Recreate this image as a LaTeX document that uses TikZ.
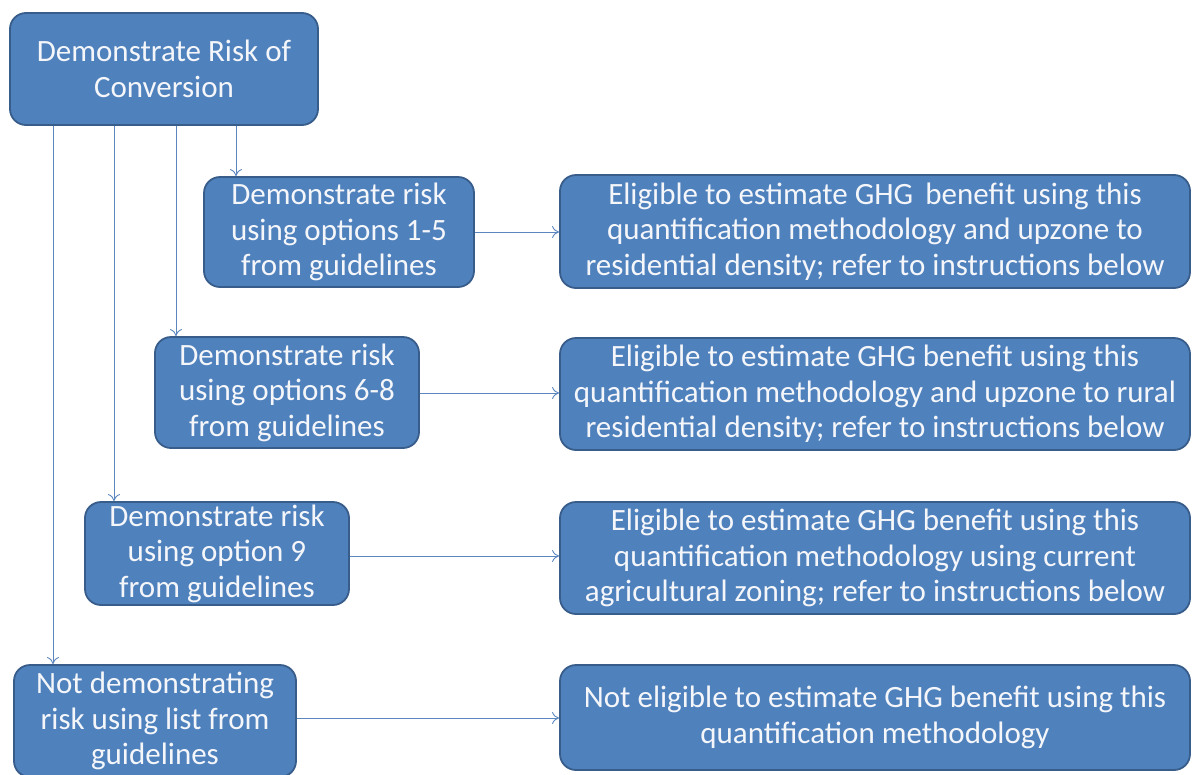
\documentclass[tikz,border=0pt]{standalone}
\usepackage{fontspec}
\setmainfont{Carlito}
\usetikzlibrary{arrows.meta}
\definecolor{boxfill}{HTML}{4F81BD}
\definecolor{boxedge}{HTML}{385D8A}
\definecolor{linec}{HTML}{5B86BE}
\definecolor{txt}{HTML}{F4F6FA}
\begin{document}
\begin{tikzpicture}[x=1pt,y=-1pt,
  box/.style={draw=boxedge, line width=1.8pt, fill=boxfill, rounded corners=16pt,
    text=txt, align=center, inner sep=0pt,
    font=\fontsize{31}{35.5}\selectfont},
  conn/.style={draw=linec, line width=0.9pt, -{To[length=7pt,width=12pt]}}]
\useasboundingbox (0,0) rectangle (1196,774);
\node[box, minimum width=308pt, minimum height=112pt] (A) at (164,69) {Demonstrate Risk of\\Conversion};
\node[box, minimum width=270pt, minimum height=110pt] (B1) at (339,232) {Demonstrate risk\\using options 1-5\\from guidelines};
\node[box, minimum width=264pt, minimum height=111pt] (B2) at (287,392.5) {Demonstrate risk\\using options 6-8\\from guidelines};
\node[box, minimum width=264pt, minimum height=103pt] (B3) at (217,553.5) {Demonstrate risk\\using option 9\\from guidelines};
\node[box, minimum width=282pt, minimum height=112pt] (B4) at (155,721) {Not demonstrating\\risk using list from\\guidelines};
\node[box, minimum width=630pt, minimum height=113pt] (R1) at (875,231.5) {Eligible to estimate GHG\, benefit using this\\quantification methodology and upzone to\\residential density; refer to instructions below};
\node[box, minimum width=630pt, minimum height=112pt] (R2) at (875,394) {Eligible to estimate GHG benefit using this\\quantification methodology and upzone to rural\\residential density; refer to instructions below};
\node[box, minimum width=630pt, minimum height=112pt] (R3) at (875,558) {Eligible to estimate GHG benefit using this\\quantification methodology using current\\agricultural zoning; refer to instructions below};
\node[box, minimum width=630pt, minimum height=105pt] (R4) at (875,717.5) {Not eligible to estimate GHG benefit using this\\quantification methodology};
\draw[conn] (A.south -| 236,0) -- (B1.north -| 236,0);
\draw[conn] (A.south -| 176,0) -- (B2.north -| 176,0);
\draw[conn] (A.south -| 114,0) -- (B3.north -| 114,0);
\draw[conn] (A.south -| 53,0) -- (B4.north -| 53,0);
\draw[conn] (B1.east |- 0,232) -- (R1.west |- 0,232);
\draw[conn] (B2.east |- 0,393) -- (R2.west |- 0,393);
\draw[conn] (B3.east |- 0,556) -- (R3.west |- 0,556);
\draw[conn] (B4.east |- 0,718) -- (R4.west |- 0,718);
\end{tikzpicture}
\end{document}
